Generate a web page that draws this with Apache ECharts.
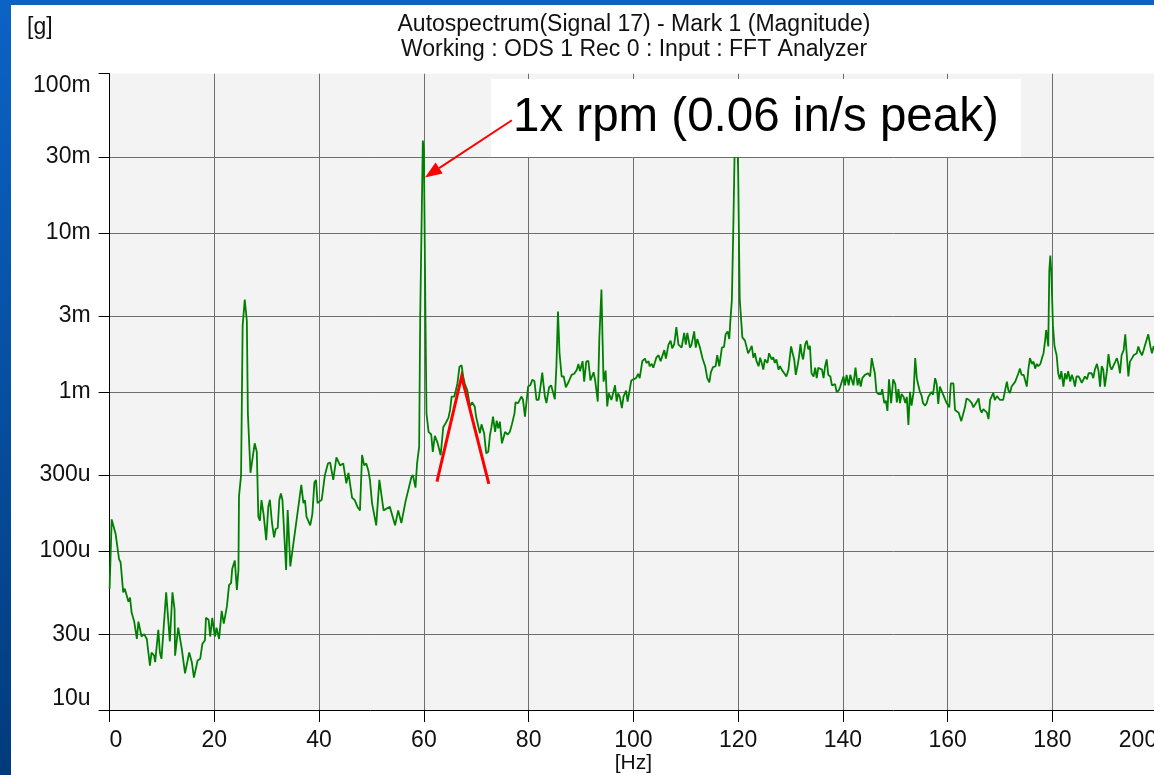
<!DOCTYPE html>
<html>
<head>
<meta charset="utf-8">
<title>Autospectrum</title>
<script src="https://cdn.jsdelivr.net/npm/echarts@6/dist/echarts.min.js"></script>
<style>
  html, body { margin: 0; padding: 0; background: #fff; }
  #chart { width: 1154px; height: 775px; }
</style>
</head>
<body>
<div id="chart"></div>
<script>
// spectrum, [frequency Hz, magnitude g]
var band0to40 = [
  [0, 58e-6], [0.4, 158e-6], [0.7, 155e-6], [1.15, 128e-6], [1.4, 126e-6], [1.8, 89e-6], [2.1, 85e-6], [2.6, 55e-6], [2.9, 58e-6], [3.2, 58e-6],
  [3.6, 48e-6], [3.9, 51e-6], [4.2, 41e-6], [4.7, 36e-6], [5.2, 28e-6], [5.5, 36e-6], [6.1, 29e-6], [6.6, 30e-6], [7.1, 28e-6], [7.7, 19e-6],
  [8.0, 23e-6], [8.5, 22e-6], [8.7, 20e-6], [9.3, 32e-6], [9.6, 23e-6], [9.9, 21e-6], [10.8, 55e-6], [11.5, 27e-6], [12.0, 55e-6], [12.4, 43e-6],
  [12.5, 22e-6], [13.1, 33e-6], [13.8, 24e-6], [14.4, 17e-6], [15.2, 23e-6], [15.7, 20e-6], [16.1, 16e-6], [16.8, 20.5e-6], [17.3, 21e-6], [17.7, 26e-6],
  [18.2, 27.5e-6], [18.4, 38e-6], [18.9, 37e-6], [19.2, 29e-6], [19.6, 38e-6], [20.1, 29e-6], [20.4, 33e-6], [20.9, 28e-6], [21.4, 42e-6], [21.8, 35e-6],
  [22.4, 45e-6], [22.8, 61e-6], [23.2, 63e-6], [23.4, 77e-6], [23.7, 75e-6], [23.9, 87e-6], [24.3, 57e-6], [24.6, 76e-6], [24.7, 220e-6], [25.1, 300e-6],
  [25.4, 2.6e-3], [25.8, 3.8e-3], [26.2, 2.8e-3], [26.4, 730e-6], [26.9, 310e-6], [27.7, 475e-6], [28.1, 420e-6], [28.4, 164e-6], [28.7, 155e-6], [29.0, 209e-6],
  [29.4, 170e-6], [29.9, 117e-6], [30.3, 190e-6], [30.6, 210e-6], [31.0, 150e-6], [31.4, 122e-6], [31.7, 137e-6], [32.1, 140e-6], [32.4, 209e-6], [32.7, 230e-6],
  [33.0, 209e-6], [33.7, 76e-6], [34.0, 181e-6], [34.5, 80e-6], [35.1, 112e-6], [35.7, 157e-6], [36.6, 260e-6], [37.0, 200e-6], [37.3, 209e-6], [37.6, 164e-6],
  [38.3, 145e-6], [38.7, 170e-6], [39.1, 270e-6], [39.4, 280e-6], [39.7, 200e-6]
];
var band40to80 = [
  [40.1, 205e-6], [40.5, 210e-6], [41.1, 300e-6], [41.7, 356e-6], [42.1, 360e-6], [42.7, 280e-6], [43.3, 388e-6], [44.0, 345e-6], [44.6, 355e-6], [45.2, 266e-6],
  [45.6, 310e-6], [45.9, 310e-6], [46.3, 216e-6], [46.8, 209e-6], [47.3, 190e-6], [47.8, 180e-6], [48.2, 401e-6], [48.6, 345e-6], [49.0, 355e-6], [49.4, 320e-6],
  [49.7, 280e-6], [50.1, 200e-6], [50.9, 145e-6], [51.5, 280e-6], [52.3, 180e-6], [53.5, 190e-6], [54.5, 145e-6], [55.1, 180e-6], [55.7, 150e-6], [56.5, 205e-6],
  [57.6, 290e-6], [57.9, 300e-6], [58.4, 250e-6], [58.7, 355e-6], [59.1, 453e-6], [59.3, 3.0e-3], [59.8, 38e-3], [60.0, 33e-3], [60.3, 3.0e-3], [60.5, 730e-6],
  [60.9, 560e-6], [61.4, 540e-6], [61.7, 420e-6], [62.1, 530e-6], [62.6, 480e-6], [63.2, 400e-6], [63.7, 600e-6], [64.2, 640e-6], [64.7, 690e-6], [65.0, 770e-6],
  [65.3, 935e-6], [65.8, 935e-6], [66.1, 1.02e-3], [66.4, 1.13e-3], [66.8, 1.44e-3], [67.2, 1.47e-3], [67.5, 1.25e-3], [67.8, 1.13e-3], [68.3, 1.02e-3], [68.8, 810e-6],
  [69.2, 860e-6], [69.7, 810e-6], [70.0, 690e-6], [70.3, 700e-6], [70.7, 550e-6], [71.0, 625e-6], [71.5, 550e-6], [71.9, 411e-6], [72.3, 420e-6], [72.6, 530e-6],
  [72.9, 600e-6], [73.2, 700e-6], [73.6, 560e-6], [73.9, 660e-6], [74.2, 590e-6], [74.5, 650e-6], [74.9, 475e-6], [75.2, 465e-6], [75.5, 560e-6], [76.0, 540e-6],
  [76.4, 560e-6], [76.8, 625e-6], [77.3, 733e-6], [77.5, 860e-6], [78.0, 850e-6], [78.6, 935e-6], [78.9, 900e-6], [79.3, 700e-6], [79.6, 700e-6]
];
var band80to120 = [
  [79.9, 1.08e-3], [80.3, 1.1e-3], [80.7, 1.19e-3], [81.1, 1.17e-3], [81.5, 890e-6], [81.9, 890e-6], [82.3, 1.1e-3], [82.6, 1.32e-3], [82.9, 1.07e-3], [83.1, 935e-6],
  [83.4, 850e-6], [83.9, 1.07e-3], [84.3, 1.1e-3], [84.7, 980e-6], [85.0, 900e-6], [85.3, 1.44e-3], [85.6, 3.2e-3], [85.9, 1.75e-3], [86.3, 1.25e-3], [86.7, 1.25e-3],
  [87.1, 1.07e-3], [87.6, 1.15e-3], [88.2, 1.28e-3], [88.7, 1.3e-3], [89.2, 1.38e-3], [89.5, 1.5e-3], [89.8, 1.35e-3], [90.3, 1.56e-3], [90.6, 1.16e-3], [91.0, 1.55e-3],
  [91.4, 1.57e-3], [91.8, 1.18e-3], [92.4, 1.33e-3], [92.7, 1.18e-3], [93.2, 870e-6], [93.5, 2.2e-3], [93.9, 4.4e-3], [94.1, 2.2e-3], [94.3, 1.16e-3], [94.7, 1.36e-3],
  [95.0, 810e-6], [95.3, 980e-6], [95.8, 890e-6], [96.1, 900e-6], [96.5, 1.1e-3], [96.8, 870e-6], [97.1, 980e-6], [97.4, 930e-6], [97.8, 790e-6], [98.1, 930e-6],
  [98.6, 1.02e-3], [98.9, 870e-6], [99.2, 870e-6], [99.6, 1.18e-3], [100.0, 1.2e-3], [100.5, 1.22e-3], [100.9, 1.3e-3], [101.2, 1.22e-3], [101.7, 1.56e-3], [102.2, 1.62e-3],
  [102.5, 1.52e-3], [102.9, 1.56e-3], [103.1, 1.45e-3], [103.5, 1.5e-3], [103.8, 1.42e-3], [104.4, 1.65e-3], [104.8, 1.7e-3], [105.2, 1.56e-3], [105.5, 1.56e-3], [105.9, 1.83e-3],
  [106.2, 1.62e-3], [106.7, 1.98e-3], [107.1, 2.1e-3], [107.4, 1.88e-3], [107.8, 2.0e-3], [108.2, 2.55e-3], [108.6, 1.98e-3], [108.9, 2.0e-3], [109.2, 1.9e-3], [109.7, 2.35e-3],
  [110.0, 1.98e-3], [110.3, 2.35e-3], [110.8, 1.9e-3], [111.1, 1.98e-3], [111.6, 2.4e-3], [111.9, 1.9e-3], [112.2, 2.15e-3], [112.7, 1.9e-3], [113.2, 1.62e-3], [113.7, 1.45e-3],
  [114.1, 1.22e-3], [114.5, 1.15e-3], [114.8, 1.33e-3], [115.2, 1.43e-3], [115.7, 1.45e-3], [116.0, 1.7e-3], [116.4, 1.45e-3], [116.9, 1.9e-3], [117.3, 1.92e-3], [117.6, 2.3e-3],
  [118.0, 2.4e-3], [118.3, 2.15e-3], [118.5, 2.75e-3], [118.8, 3.8e-3], [119.1, 12e-3], [119.4, 45e-3], [119.8, 45e-3]
];
var band120to160 = [
  [120.0, 24e-3], [120.3, 3.8e-3], [120.8, 2.2e-3], [121.3, 2.1e-3], [121.9, 1.75e-3], [122.3, 1.85e-3], [122.6, 1.95e-3], [122.9, 1.64e-3], [123.2, 1.75e-3], [123.5, 1.56e-3],
  [123.9, 1.45e-3], [124.2, 1.64e-3], [124.5, 1.52e-3], [124.8, 1.38e-3], [125.1, 1.6e-3], [125.6, 1.52e-3], [125.9, 1.75e-3], [126.4, 1.6e-3], [126.7, 1.65e-3], [127.0, 1.52e-3],
  [127.3, 1.6e-3], [127.7, 1.38e-3], [128.0, 1.45e-3], [128.3, 1.38e-3], [128.8, 1.31e-3], [129.2, 1.25e-3], [129.6, 1.38e-3], [129.9, 1.42e-3], [130.1, 1.93e-3], [130.4, 1.75e-3],
  [130.7, 1.6e-3], [131.0, 1.28e-3], [131.4, 1.5e-3], [131.6, 1.65e-3], [131.9, 2.0e-3], [132.1, 1.75e-3], [132.4, 1.6e-3], [132.8, 2.0e-3], [133.1, 2.1e-3], [133.4, 1.85e-3],
  [133.7, 1.95e-3], [134.0, 1.31e-3], [134.4, 1.25e-3], [134.7, 1.42e-3], [135.0, 1.22e-3], [135.3, 1.42e-3], [135.6, 1.45e-3], [136.0, 1.38e-3], [136.3, 1.22e-3], [136.6, 1.45e-3],
  [136.9, 1.6e-3], [137.2, 1.28e-3], [137.6, 1.25e-3], [137.9, 1.1e-3], [138.2, 1.08e-3], [138.5, 1.12e-3], [138.8, 1.0e-3], [139.2, 1.02e-3], [139.5, 1.08e-3], [139.8, 1.05e-3],
  [140.1, 1.25e-3], [140.4, 1.1e-3], [140.7, 1.28e-3], [141.1, 1.1e-3], [141.4, 1.28e-3], [141.7, 1.31e-3], [142.0, 1.1e-3], [142.4, 1.42e-3], [142.8, 1.1e-3], [143.1, 1.22e-3],
  [143.4, 1.08e-3], [143.7, 1.22e-3], [144.2, 1.28e-3], [144.5, 1.25e-3], [144.8, 1.31e-3], [145.2, 1.25e-3], [145.5, 1.63e-3], [145.8, 1.45e-3], [146.1, 1.31e-3], [146.4, 1.0e-3],
  [146.8, 970e-6], [147.3, 970e-6], [147.5, 1.04e-3], [147.9, 850e-6], [148.2, 880e-6], [148.5, 760e-6], [148.8, 1.2e-3], [149.2, 850e-6], [149.6, 1.2e-3], [150.0, 1.12e-3],
  [150.3, 860e-6], [150.6, 1.04e-3], [150.9, 850e-6], [151.2, 970e-6], [151.6, 930e-6], [151.9, 850e-6], [152.2, 930e-6], [152.5, 620e-6], [152.8, 1.0e-3], [153.1, 820e-6],
  [153.5, 1.0e-3], [153.8, 1.63e-3], [154.1, 1.22e-3], [154.4, 1.1e-3], [154.7, 1.0e-3], [155.0, 950e-6], [155.3, 850e-6], [155.7, 820e-6], [156.0, 850e-6], [156.3, 930e-6],
  [156.6, 910e-6], [156.9, 1.0e-3], [157.2, 960e-6], [157.6, 1.22e-3], [157.9, 1.12e-3], [158.2, 840e-6], [158.5, 1.08e-3], [158.8, 1.08e-3], [159.2, 950e-6], [159.5, 970e-6],
  [159.8, 850e-6]
];
var band160to200 = [
  [160.3, 800e-6], [160.6, 1.13e-3], [161.1, 1.13e-3], [161.4, 770e-6], [161.7, 770e-6], [162.1, 740e-6], [162.6, 655e-6], [162.9, 670e-6], [163.3, 800e-6], [163.6, 910e-6],
  [164.1, 890e-6], [164.6, 850e-6], [164.9, 800e-6], [165.2, 780e-6], [165.5, 860e-6], [165.9, 910e-6], [166.2, 780e-6], [166.5, 740e-6], [166.8, 780e-6], [167.1, 780e-6],
  [167.5, 740e-6], [167.8, 675e-6], [168.1, 890e-6], [168.4, 910e-6], [168.7, 985e-6], [169.0, 890e-6], [169.4, 940e-6], [169.7, 940e-6], [170.0, 890e-6], [170.3, 870e-6],
  [170.6, 890e-6], [170.9, 1.0e-3], [171.3, 1.16e-3], [171.6, 1.02e-3], [171.9, 985e-6], [172.2, 1.08e-3], [172.5, 1.06e-3], [172.9, 1.16e-3], [173.2, 1.18e-3], [173.5, 1.31e-3],
  [173.8, 1.4e-3], [174.1, 1.28e-3], [174.5, 1.28e-3], [174.8, 1.18e-3], [175.1, 1.08e-3], [175.4, 1.38e-3], [175.7, 1.63e-3], [176.1, 1.5e-3], [176.4, 1.55e-3], [176.7, 1.4e-3],
  [177.0, 1.5e-3], [177.3, 1.45e-3], [177.7, 1.5e-3], [178.0, 1.63e-3], [178.3, 1.75e-3], [178.6, 2.1e-3], [178.8, 2.45e-3], [179.0, 2.2e-3], [179.2, 1.93e-3], [179.4, 5.8e-3],
  [179.6, 7.2e-3], [179.8, 5.5e-3], [180.1, 2.6e-3], [180.4, 1.93e-3], [180.8, 1.7e-3], [181.1, 1.31e-3], [181.4, 1.2e-3], [181.7, 1.35e-3], [182.1, 1.08e-3], [182.4, 1.31e-3],
  [182.7, 1.2e-3], [183.0, 1.35e-3], [183.4, 1.16e-3], [183.7, 1.28e-3], [184.0, 1.2e-3], [184.3, 1.08e-3], [184.6, 1.25e-3], [185.0, 1.25e-3], [185.3, 1.2e-3], [185.6, 1.14e-3],
  [185.9, 1.16e-3], [186.2, 1.25e-3], [186.6, 1.2e-3], [186.9, 1.31e-3], [187.2, 1.28e-3], [187.5, 1.31e-3], [187.8, 1.22e-3], [188.1, 1.38e-3], [188.5, 1.5e-3], [188.8, 1.35e-3],
  [189.1, 1.08e-3], [189.4, 1.45e-3], [189.7, 1.38e-3], [190.0, 1.08e-3], [190.4, 1.35e-3], [190.7, 1.73e-3], [191.0, 1.45e-3], [191.3, 1.38e-3], [191.6, 1.42e-3], [192.0, 1.55e-3],
  [192.3, 1.63e-3], [192.6, 1.5e-3], [192.9, 1.31e-3], [193.2, 1.7e-3], [193.6, 1.83e-3], [193.9, 2.3e-3], [194.2, 1.7e-3], [194.5, 1.25e-3], [194.8, 1.55e-3], [195.2, 1.63e-3],
  [195.5, 1.7e-3], [195.8, 1.73e-3], [196.1, 1.75e-3], [196.4, 1.93e-3], [196.7, 1.8e-3], [197.1, 1.7e-3], [197.4, 1.83e-3], [197.7, 1.98e-3], [198.0, 2.0e-3], [198.3, 2.3e-3],
  [198.7, 1.93e-3], [199.0, 1.75e-3], [199.3, 1.93e-3], [199.6, 1.9e-3]
];

// y axis ticks (g) and their labels
var yTickValues = [10e-6, 30e-6, 100e-6, 300e-6, 1e-3, 3e-3, 10e-3, 30e-3, 100e-3];
var yTickLabels = ['10u', '30u', '100u', '300u', '1m', '3m', '10m', '30m', '100m'];

// annotation anchors in data space [Hz, g]
var arrowTail = [76.8, 51e-3];
var arrowTip = [60.2, 22.3e-3];
var chevron = [[62.5, 273e-6], [67.2, 1.25e-3], [72.4, 264e-6]];

var FONT = '"Liberation Sans", Arial, sans-serif';

var spectrum = band0to40.concat(band40to80, band80to120, band120to160, band160to200);
// log axis drawn as a linear axis over log10(g) so the 1-3-10 ticks can be placed
var seriesData = spectrum.map(function (p) { return [p[0], Math.log10(p[1])]; });
var yTickLogs = yTickValues.map(function (v) { return Math.log10(v); });

var chart = echarts.init(document.getElementById('chart'));

var option = {
  backgroundColor: '#ffffff',
  animation: false,
  grid: {
    left: 109.6,
    top: 73.7,
    right: -3.2,
    bottom: 64.9,
    outerBoundsMode: 'none',
    containLabel: false,
    show: true,
    backgroundColor: '#f3f3f3',
    borderWidth: 0
  },
  xAxis: {
    type: 'value',
    min: 0,
    max: 200,
    interval: 20,
    name: '[Hz]',
    nameLocation: 'middle',
    nameGap: 43,
    nameMoveOverlap: false,
    nameTextStyle: { fontFamily: FONT, fontSize: 21, color: '#111' },
    axisLine: { show: true, lineStyle: { color: '#000', width: 1 } },
    axisTick: { show: true, length: 12, lineStyle: { color: '#000' } },
    axisLabel: {
      fontFamily: FONT, fontSize: 23, color: '#111', margin: 19,
      alignMinLabel: 'left',
      alignMaxLabel: 'right'
    },
    splitLine: { show: true, showMinLine: false, showMaxLine: false, lineStyle: { color: '#6e6e6e', width: 1 } }
  },
  yAxis: {
    type: 'value',
    min: -5,
    max: -1,
    offset: 3,
    axisLine: { show: true, lineStyle: { color: '#000', width: 1 } },
    axisTick: { show: true, length: 11, customValues: yTickLogs, lineStyle: { color: '#000' } },
    axisLabel: {
      customValues: yTickLogs,
      fontFamily: FONT,
      fontSize: 23,
      color: '#111',
      margin: 16,
      verticalAlignMinLabel: 'bottom',
      verticalAlignMaxLabel: 'top',
      formatter: function (v) {
        for (var i = 0; i < yTickLogs.length; i++) {
          if (Math.abs(yTickLogs[i] - v) < 1e-6) return yTickLabels[i];
        }
        return '';
      }
    },
    splitLine: { show: true, showMinLine: false, showMaxLine: false, lineStyle: { color: '#6e6e6e', width: 1 } }
  },
  series: [{
    type: 'line',
    data: seriesData,
    showSymbol: false,
    symbol: 'none',
    lineStyle: { color: '#008000', width: 1.8 },
    z: 3
  }]
};
chart.setOption(option);

function px(p) {
  return chart.convertToPixel({ gridIndex: 0 }, [p[0], Math.log10(p[1])]);
}

// arrow pointing at the 1x peak
var tip = px(arrowTip);
var tail = px(arrowTail);
var dx = tip[0] - tail[0], dy = tip[1] - tail[1];
var len = Math.sqrt(dx * dx + dy * dy);
var ux = dx / len, uy = dy / len;
var headLen = 17, headHalf = 6.5;
var base = [tip[0] - ux * headLen, tip[1] - uy * headLen];
var headPts = [
  tip,
  [base[0] - uy * headHalf, base[1] + ux * headHalf],
  [base[0] + uy * headHalf, base[1] - ux * headHalf]
];

chart.setOption({
  graphic: [
    // slide background strips
    { type: 'rect', left: 0, top: 0, shape: { width: 1154, height: 5 }, style: { fill: '#0a62c4' }, z: 100 },
    {
      type: 'rect', left: 0, top: 0, shape: { width: 11, height: 775 },
      style: {
        fill: new echarts.graphic.LinearGradient(0, 0, 0, 1, [
          { offset: 0, color: '#0b63c6' },
          { offset: 1, color: '#023b7c' }
        ])
      },
      z: 100
    },
    // headers
    {
      type: 'text', x: 634, y: 25, z: 100,
      style: { text: 'Autospectrum(Signal 17) - Mark 1 (Magnitude)', font: '23px ' + FONT, fill: '#111', align: 'center', verticalAlign: 'middle' }
    },
    {
      type: 'text', x: 634, y: 50, z: 100,
      style: { text: 'Working : ODS 1 Rec 0 : Input : FFT Analyzer', font: '23px ' + FONT, fill: '#111', align: 'center', verticalAlign: 'middle' }
    },
    {
      type: 'text', x: 27, y: 28, z: 100,
      style: { text: '[g]', font: '23px ' + FONT, fill: '#111', align: 'left', verticalAlign: 'middle' }
    },
    // annotation box
    { type: 'rect', x: 491, y: 79, shape: { width: 530, height: 78 }, style: { fill: '#ffffff' }, z: 50 },
    {
      type: 'text', x: 513, y: 118, z: 51,
      style: { text: '1x rpm (0.06 in/s peak)', font: '47.5px ' + FONT, fill: '#000', align: 'left', verticalAlign: 'middle' }
    },
    {
      type: 'polyline', z: 52,
      shape: { points: [tail, base] },
      style: { stroke: '#ff0000', lineWidth: 2, fill: null }
    },
    {
      type: 'polygon', z: 52,
      shape: { points: headPts },
      style: { fill: '#ff0000' }
    },
    {
      type: 'polyline', z: 52,
      shape: { points: chevron.map(px) },
      style: { stroke: '#ff0000', lineWidth: 3, fill: null }
    }
  ]
});
</script>
</body>
</html>
